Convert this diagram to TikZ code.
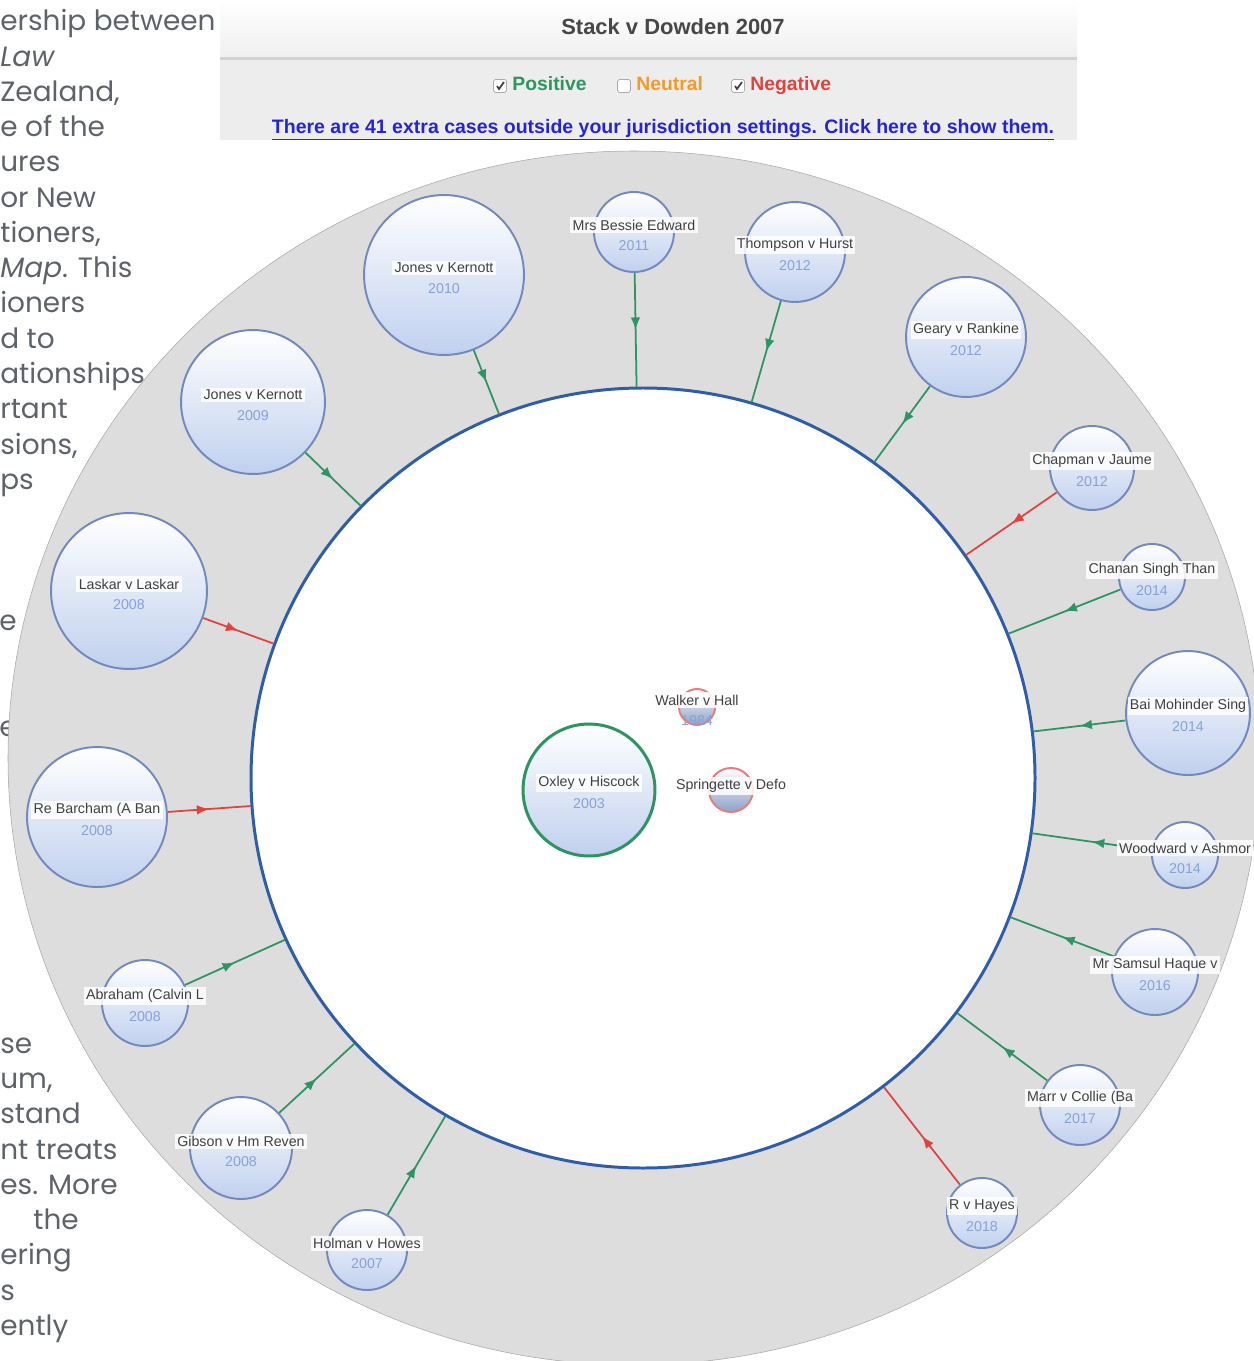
\documentclass[tikz,border=0pt]{standalone}
\usepackage{fontspec}
\setmainfont{Liberation Sans}
\newfontfamily\pagefont{Poppins}
\usetikzlibrary{arrows.meta,calc,positioning,decorations.markings,shapes.geometric}
\definecolor{diskgray}{HTML}{DDDDDD}
\definecolor{hubblue}{HTML}{2F5DA6}
\definecolor{rimblue}{HTML}{7189BC}
\definecolor{bubbleblue}{HTML}{C0D0EE}
\definecolor{yearblue}{HTML}{86A2D6}
\definecolor{posgreen}{HTML}{2E9462}
\definecolor{neuorange}{HTML}{F39A2B}
\definecolor{negred}{HTML}{E0423F}
\definecolor{linkblue}{HTML}{2424D8}
\definecolor{pagegray}{HTML}{5E636A}
\pgfdeclarelayer{back}
\pgfdeclarelayer{links}
\pgfsetlayers{back,links,main}
\tikzset{>=Stealth}
% one case bubble: [extra], name, centre, radius (px), title, year
\newcommand{\casenode}[6][]{%
  \node[case,#1,minimum size=#4*0.04cm] (#2) at (#3) {};
  \node[casename] (#2-name) at ($(#2)+(0,-7)$) {#5};
  \node[caseyear] (#2-year) at ($(#2)+(0,14)$) {#6};
}

\begin{document}
\begin{tikzpicture}[x=0.02cm,y=-0.02cm,
    case/.style={circle,draw=rimblue,line width=1.1pt,top color=white,bottom color=bubbleblue,inner sep=0pt},
    casename/.style={fill=white,fill opacity=0.85,text opacity=1,inner sep=1.3pt,font=\fontsize{8.1}{9.5}\selectfont,text=black!75},
    caseyear/.style={inner sep=0pt,font=\fontsize{8.1}{9.5}\selectfont,text=yearblue},
    hub/.style={ellipse,draw=hubblue,line width=1.7pt,fill=white,inner sep=0pt},
    cites/.style={line width=1pt,decoration={markings,mark=at position 0.5 with {\arrow{Latex[length=7pt,width=5.5pt]}}},postaction={decorate}},
    posline/.style={cites,posgreen},
    negline/.style={cites,negred},
    pagetext/.style={anchor=base west,inner sep=0pt,font=\pagefont\fontsize{15.9}{19}\selectfont,text=pagegray},
    tickbox/.style={draw=gray!65,fill=white,minimum size=0.26cm,inner sep=0pt,rounded corners=1pt},
    filter/.style={inner sep=0pt,text height=0.72em,text depth=0.2em,font=\bfseries\fontsize{11}{13}\selectfont},
    tick/.style={black!75,line width=1pt}]
  \useasboundingbox (0,0) rectangle (1253,1361);

  \begin{pgfonlayer}{back}
    % page text behind the map
    \node[pagetext] (p0) at (0,31) {ership between};
    \node[pagetext] (p1) at (0,66.25) {\itshape Law};
    \node[pagetext] (p2) at (0,101.5) {Zealand,};
    \node[pagetext] (p3) at (0,136.75) {e of the};
    \node[pagetext] (p4) at (0,172) {ures};
    \node[pagetext] (p5) at (0,207.25) {or New};
    \node[pagetext] (p6) at (0,242.5) {tioners,};
    \node[pagetext] (p7) at (0,277.75) {{\itshape Map}. This};
    \node[pagetext] (p8) at (0,313) {ioners};
    \node[pagetext] (p9) at (0,348.25) {d to};
    \node[pagetext] (p10) at (0,383.5) {ationships};
    \node[pagetext] (p11) at (0,418.75) {rtant};
    \node[pagetext] (p12) at (0,454) {sions,};
    \node[pagetext] (p13) at (0,489.25) {ps};
    \node[pagetext] (p17) at (-1,630.25) {e};
    \node[pagetext] (p20) at (-1,736) {e};
    \node[pagetext] (p29) at (0,1053.25) {se};
    \node[pagetext] (p30) at (0,1088.5) {um,};
    \node[pagetext] (p31) at (0,1123.75) {stand};
    \node[pagetext] (p32) at (0,1159) {nt treats};
    \node[pagetext] (p33) at (0,1194.25) {es. More};
    \node[pagetext] (p34) at (33,1229.5) {the};
    \node[pagetext] (p35) at (0,1264.75) {ering};
    \node[pagetext] (p36) at (0,1300) {s};
    \node[pagetext] (p37) at (0,1335.25) {ently};
    % map disk and the cited case
    \filldraw[fill=diskgray,draw=gray!70,line width=0.3pt] (634,758) ellipse [x radius=626, y radius=607];
    \node[hub,minimum width=784*0.02cm,minimum height=780*0.02cm] (hub) at (643,778) {};
  \end{pgfonlayer}

  % header
  \fill[top color=white,bottom color=gray!12] (220,0) rectangle (1077,57);
  \fill[gray!35] (220,57) rectangle (1077,60);
  \fill[gray!14] (220,60) rectangle (1077,140);
  \node[font=\bfseries\fontsize{12.5}{15}\selectfont,text=black!72] (title) at (673,27) {Stack v Dowden 2007};
  \node[tickbox] (posbox) at (500,86) {};
  \node[filter,text=posgreen,right=3pt of posbox] (poslabel) {Positive};
  \node[tickbox] (neubox) at (624,86) {};
  \node[filter,text=neuorange,right=3pt of neubox] (neulabel) {Neutral};
  \node[tickbox] (negbox) at (738,86) {};
  \node[filter,text=negred,right=3pt of negbox] (neglabel) {Negative};
  \draw[tick] ($(posbox)+(-3,0)$) -- ($(posbox)+(-1,3)$) -- ($(posbox)+(4,-4)$);
  \draw[tick] ($(negbox)+(-3,0)$) -- ($(negbox)+(-1,3)$) -- ($(negbox)+(4,-4)$);
  \node[font=\bfseries\fontsize{11.1}{13}\selectfont,text=linkblue] (link) at (663,130)
    {\underline{There are 41 extra cases outside your jurisdiction settings. Click here to show them.}};

  % citing cases
  \casenode{jonesA}{444,275}{80}{Jones v Kernott}{2010}
  \casenode{bessie}{634,232}{40}{Mrs Bessie Edward}{2011}
  \casenode{thompson}{795,252}{50}{Thompson v Hurst}{2012}
  \casenode{geary}{966,337}{60}{Geary v Rankine}{2012}
  \casenode{chapman}{1092,468}{42}{Chapman v Jaume}{2012}
  \casenode{chanan}{1152,577}{33}{Chanan Singh Than}{2014}
  \casenode{bai}{1188,713}{62}{Bai Mohinder Sing}{2014}
  \casenode{woodward}{1185,855}{33}{Woodward v Ashmor}{2014}
  \casenode{samsul}{1155,972}{43}{Mr Samsul Haque v}{2016}
  \casenode{marr}{1080,1105}{40}{Marr v Collie (Ba}{2017}
  \casenode{hayes}{982,1213}{35}{R v Hayes}{2018}
  \casenode{holman}{367,1250}{40}{Holman v Howes}{2007}
  \casenode{gibson}{241,1148}{51}{Gibson v Hm Reven}{2008}
  \casenode{abraham}{145,1003}{43}{Abraham (Calvin L}{2008}
  \casenode{barcham}{97,817}{70}{Re Barcham (A Ban}{2008}
  \casenode{laskar}{129,591}{78}{Laskar v Laskar}{2008}
  \casenode{jonesB}{253,402}{72}{Jones v Kernott}{2009}
  % cited cases
  \casenode[draw=posgreen,line width=1.7pt]{oxley}{589,790}{66}{Oxley v Hiscock}{2003}
  \casenode[draw=negred!70,bottom color=rimblue!80]{walker}{697,707}{18}{Walker v Hall}{1984}
  \node[case,draw=negred!70,bottom color=rimblue!80,minimum size=44*0.02cm] (springette) at (731,790) {};
  \node[casename] (springette-name) at ($(springette)+(0,-4)$) {Springette v Defo};

  \begin{pgfonlayer}{links}
    \draw[posline] (jonesA) -- (hub);
    \draw[posline] (bessie) -- (hub);
    \draw[posline] (thompson) -- (hub);
    \draw[posline] (geary) -- (hub);
    \draw[negline] (chapman) -- (hub);
    \draw[posline] (chanan) -- (hub);
    \draw[posline] (bai) -- (hub);
    \draw[posline] (woodward) -- (hub);
    \draw[posline] (samsul) -- (hub);
    \draw[posline] (marr) -- (hub);
    \draw[negline] (hayes) -- (hub);
    \draw[posline] (holman) -- (hub);
    \draw[posline] (gibson) -- (hub);
    \draw[posline] (abraham) -- (hub);
    \draw[negline] (barcham) -- (hub);
    \draw[negline] (laskar) -- (hub);
    \draw[posline] (jonesB) -- (hub);
  \end{pgfonlayer}
\end{tikzpicture}
\end{document}
